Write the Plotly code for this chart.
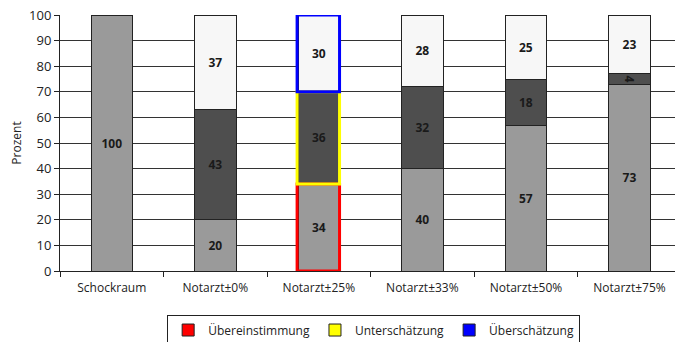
import plotly.graph_objects as go

categories = ["Schockraum", "Notarzt±0%", "Notarzt±25%", "Notarzt±33%", "Notarzt±50%", "Notarzt±75%"]
agreement = [100, 20, 34, 40, 57, 73]
under = [0, 43, 36, 32, 18, 4]
over = [0, 37, 30, 28, 25, 23]

legend_names = ["Übereinstimmung", "Unterschätzung", "Überschätzung"]
legend_colors = ["#ff0000", "#ffff00", "#0000ff"]
highlight_index = 2

fig = go.Figure()

seg_colors = ["#9a9a9a", "#4e4e4e", "#f7f7f7"]
for vals, col in zip([agreement, under, over], seg_colors):
    fig.add_trace(go.Bar(
        x=categories, y=vals,
        marker=dict(color=col, line=dict(color="#222222", width=1)),
        text=[str(v) if v else "" for v in vals],
        textposition="inside", insidetextanchor="middle",
        constraintext="none",
        textfont=dict(family="Open Sans", size=12, color="#1a1a1a", weight="bold"),
        width=0.4, showlegend=False, hoverinfo="skip",
    ))

# highlight rectangles for the highlighted category
bottoms = [0, agreement[highlight_index], agreement[highlight_index] + under[highlight_index]]
tops = [agreement[highlight_index], agreement[highlight_index] + under[highlight_index],
        agreement[highlight_index] + under[highlight_index] + over[highlight_index]]
for b, t, c in zip(bottoms, tops, legend_colors):
    fig.add_shape(type="rect", xref="x", yref="y",
                  x0=highlight_index - 0.21, x1=highlight_index + 0.2,
                  y0=b, y1=t, line=dict(color=c, width=3), layer="above")

for name, c in zip(legend_names, legend_colors):
    fig.add_trace(go.Scatter(
        x=[None], y=[None], mode="markers", name=name,
        marker=dict(symbol="square", size=12, color=c, line=dict(color="#222222", width=1)),
    ))

fig.update_layout(
    width=675, height=342,
    margin=dict(l=60, r=0, t=15, b=71, autoexpand=False),
    barmode="stack",
    plot_bgcolor="white", paper_bgcolor="white",
    font=dict(family="Open Sans", size=12, color="#222222"),
    legend=dict(orientation="h", x=0.51, xanchor="center", y=-0.17, yanchor="top",
                bgcolor="white", bordercolor="#222222", borderwidth=1,
                font=dict(size=12), itemwidth=30, traceorder="normal"),
)
fig.update_xaxes(
    type="category", range=[-0.5, 5.44],
    showline=True, linecolor="#222222", linewidth=1,
    ticks="outside", tickson="boundaries", ticklen=5, tickcolor="#222222",
    ticklabelstandoff=6,
    showgrid=False, tickfont=dict(size=12),
)
fig.update_yaxes(
    range=[0, 100], dtick=10,
    showline=True, linecolor="#222222", linewidth=1,
    ticks="outside", ticklen=5, tickcolor="#222222",
    showgrid=True, gridcolor="#333333", gridwidth=1,
    tickfont=dict(size=13),
    title=dict(text="Prozent", font=dict(size=12), standoff=4),
)

fig.write_html("out.html")
